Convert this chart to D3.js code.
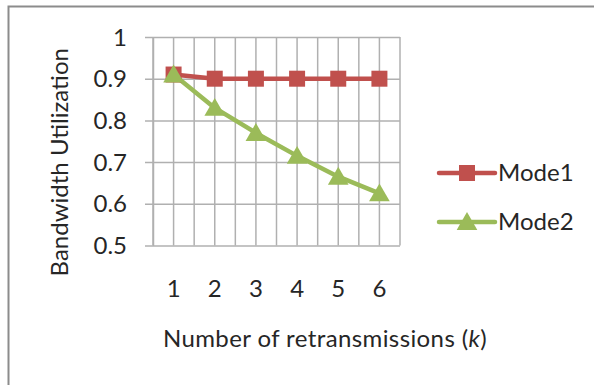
<!DOCTYPE html>
<html>
<head>
<meta charset="utf-8">
<script src="https://cdn.jsdelivr.net/npm/d3@7"></script>
<style>
  html, body { margin: 0; padding: 0; background: #fff; }
  svg text { font-family: Lato, "Open Sans", sans-serif; fill: #262626; }
</style>
</head>
<body>
<svg id="chart" width="594" height="385"></svg>
<script>
// Retransmission counts (category axis)
const categories = ["1", "2", "3", "4", "5", "6"];
// Bandwidth utilization per mode
const mode1 = [0.91, 0.90, 0.90, 0.90, 0.90, 0.90];
const mode2 = [0.91, 0.83, 0.77, 0.715, 0.665, 0.625];
const seriesNames = ["Mode1", "Mode2"];
const yTicks = [0.5, 0.6, 0.7, 0.8, 0.9, 1];

const colors = { Mode1: "#C0504D", Mode2: "#9BBB59" };
const gridColor = "#b0b0b0";
const fontSize = "24px";

const svg = d3.select("#chart");

// outer frame (top and left edges visible)
svg.append("rect")
  .attr("x", 8.5).attr("y", 6.5)
  .attr("width", 620).attr("height", 400)
  .attr("fill", "none").attr("stroke", "#8c8c8c").attr("stroke-width", 2);

const plot = { left: 153, right: 400, top: 37, bottom: 245.5 };

const x = d3.scaleBand().domain(categories).range([plot.left, plot.right]);
const y = d3.scaleLinear().domain([0.5, 1]).range([plot.bottom, plot.top]);

// vertical grid: category boundaries and centres
const vLines = [];
categories.forEach(c => { vLines.push(x(c)); vLines.push(x(c) + x.bandwidth() / 2); });
vLines.push(plot.right);
svg.append("g").selectAll("line").data(vLines).join("line")
  .attr("x1", d => d).attr("x2", d => d)
  .attr("y1", plot.top).attr("y2", plot.bottom)
  .attr("stroke", gridColor).attr("stroke-width", 1.5);

// y axis with ticks extended as horizontal gridlines
const yAxis = d3.axisLeft(y).tickValues(yTicks)
  .tickFormat(d => d3.format("")(d))
  .tickSizeInner(-(plot.right - plot.left)).tickSizeOuter(0).tickPadding(0);
const yg = svg.append("g").attr("transform", `translate(${plot.left},0)`).call(yAxis);
yg.select(".domain").attr("stroke", gridColor).attr("stroke-width", 1.5);
yg.selectAll(".tick line").attr("stroke", gridColor).attr("stroke-width", 1.5)
  .attr("x1", -8);
yg.selectAll(".tick text").attr("x", -26).attr("dy", "0.34em")
  .style("font-size", fontSize).attr("fill", "#262626");

// x axis: labels only, set well below the plot
const xAxis = d3.axisBottom(x).tickSize(0).tickPadding(0);
const xg = svg.append("g").attr("transform", `translate(0,${plot.bottom})`).call(xAxis);
xg.select(".domain").remove();
xg.selectAll(".tick text").attr("y", 43).attr("dy", "0.34em")
  .style("font-size", fontSize).attr("fill", "#262626");

// axis titles
svg.append("text")
  .attr("transform", `translate(68,${(plot.top + plot.bottom) / 2 + 21}) rotate(-90)`)
  .attr("text-anchor", "middle").style("font-size", fontSize)
  .text("Bandwidth Utilization");

const xt = svg.append("text").attr("x", 325).attr("y", 347)
  .attr("text-anchor", "middle").style("font-size", fontSize)
  .style("letter-spacing", "0.4px");
xt.append("tspan").text("Number of retransmissions (");
xt.append("tspan").style("font-style", "italic").text("k");
xt.append("tspan").text(")");

// series lines and markers
const line = d3.line().x((d, i) => x(categories[i]) + x.bandwidth() / 2).y(d => y(d));
const series = [
  { name: "Mode1", values: mode1 },
  { name: "Mode2", values: mode2 }
];

const square = d3.symbol().type(d3.symbolSquare).size(16 * 16);
const triangle = d3.symbol().type(d3.symbolTriangle).size(185);

series.forEach(s => {
  svg.append("path").datum(s.values)
    .attr("d", line).attr("fill", "none")
    .attr("stroke", colors[s.name]).attr("stroke-width", 4.5)
    .attr("stroke-linejoin", "round");
});
series.forEach(s => {
  svg.append("g").selectAll("path").data(s.values).join("path")
    .attr("transform", (d, i) => `translate(${x(categories[i]) + x.bandwidth() / 2},${y(d) + (s.name === "Mode2" ? 2 : 0)})`)
    .attr("d", s.name === "Mode1" ? square : triangle)
    .attr("fill", colors[s.name]);
});

// legend
const legendY = [173, 222];
series.forEach((s, i) => {
  const g = svg.append("g").attr("transform", `translate(439,${legendY[i]})`);
  g.append("line").attr("x1", 0).attr("x2", 56).attr("y1", 0).attr("y2", 0)
    .attr("stroke", colors[s.name]).attr("stroke-width", 4.5).attr("stroke-linecap", "round");
  g.append("path").attr("transform", `translate(28,${s.name === "Mode2" ? 2 : 0})`)
    .attr("d", s.name === "Mode1" ? square : triangle).attr("fill", colors[s.name]);
  g.append("text").attr("x", 59).attr("dy", "0.34em").style("font-size", fontSize)
    .text(s.name);
});
</script>
</body>
</html>
